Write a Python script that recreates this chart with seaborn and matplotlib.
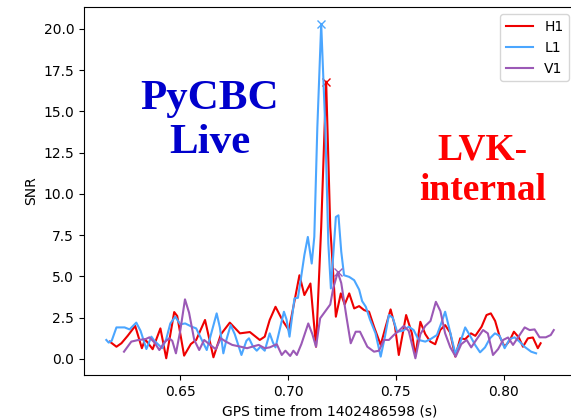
import pandas as pd
import matplotlib
matplotlib.use("Agg")
import matplotlib.pyplot as plt
import seaborn as sns

# SNR time series (time in s from 1402486598)
h1_time = [0.6173, 0.6204, 0.6227, 0.6256, 0.6291, 0.6322, 0.6337, 0.6372, 0.6408, 0.6435,
           0.6472, 0.6486, 0.6518, 0.6549, 0.6574, 0.6615, 0.6654, 0.6689, 0.6730, 0.6777,
           0.6823, 0.6869, 0.6892, 0.6915, 0.6942, 0.6976, 0.7004, 0.7030, 0.7053, 0.7076,
           0.7104, 0.7130, 0.7154, 0.7177, 0.7196, 0.7222, 0.7245, 0.7263, 0.7284, 0.7307,
           0.7330, 0.7353, 0.7376, 0.7399, 0.7430, 0.7453, 0.7476, 0.7496, 0.7514, 0.7548,
           0.7575, 0.7591, 0.7614, 0.7637, 0.7660, 0.7683, 0.7706, 0.7729, 0.7752, 0.7776,
           0.7799, 0.7822, 0.7849, 0.7869, 0.7898, 0.7921, 0.7941, 0.7961, 0.7982, 0.8005,
           0.8028, 0.8048, 0.8071, 0.8090, 0.8113, 0.8136, 0.8159, 0.8172]
h1_snr = [1.05, 0.74, 0.95, 1.4, 2.0, 0.65, 1.19, 0.59, 1.85, 0.04,
          2.84, 2.6, 0.2, 0.9, 1.15, 2.36, 0.1, 1.5, 2.2, 1.55,
          1.63, 1.15, 1.35, 2.36, 3.16, 2.3, 1.75, 3.5, 5.07, 3.87,
          4.57, 0.74, 8.0, 16.8, 8.0, 2.56, 3.97, 3.3, 3.97, 3.06,
          3.2, 2.96, 2.86, 1.95, 0.85, 1.95, 3.0, 2.0, 0.24, 2.66,
          1.55, 0.18, 2.25, 1.5, 1.05, 0.89, 1.75, 2.05, 1.6, 0.14,
          1.25, 1.2, 1.55, 1.4, 1.95, 2.66, 2.76, 2.3, 1.35, 0.74,
          1.1, 1.65, 1.3, 0.74, 1.25, 1.3, 0.65, 0.95]

l1_time = [0.6157, 0.6168, 0.6182, 0.6204, 0.6242, 0.6265, 0.6296, 0.6316, 0.6343, 0.6366,
           0.6380, 0.6416, 0.6435, 0.6454, 0.6477, 0.6500, 0.6523, 0.6554, 0.6574, 0.6600,
           0.6623, 0.6646, 0.6669, 0.6684, 0.6700, 0.6715, 0.6734, 0.6753, 0.6784, 0.6807,
           0.6819, 0.6838, 0.6855, 0.6872, 0.6892, 0.6915, 0.6930, 0.6942, 0.6961, 0.6981,
           0.6993, 0.7007, 0.7030, 0.7046, 0.7061, 0.7076, 0.7092, 0.7110, 0.7122, 0.7136,
           0.7154, 0.7173, 0.7187, 0.7199, 0.7210, 0.7222, 0.7234, 0.7247, 0.7260, 0.7284,
           0.7307, 0.7330, 0.7344, 0.7361, 0.7380, 0.7406, 0.7430, 0.7449, 0.7468, 0.7486,
           0.7506, 0.7532, 0.7560, 0.7583, 0.7606, 0.7637, 0.7661, 0.7691, 0.7712, 0.7729,
           0.7749, 0.7776, 0.7799, 0.7822, 0.7845, 0.7868, 0.7891, 0.7914, 0.7937, 0.7960,
           0.7982, 0.8005, 0.8028, 0.8051, 0.8074, 0.8097, 0.8128, 0.8151]
l1_snr = [1.15, 0.99, 1.1, 1.91, 1.91, 1.79, 2.2, 1.7, 0.6, 1.35,
          1.1, 0.65, 1.2, 2.15, 2.56, 2.1, 2.15, 1.95, 1.85, 1.15,
          0.54, 1.65, 2.76, 1.9, 0.34, 1.2, 2.05, 1.5, 0.24, 1.1,
          1.25, 0.74, 0.5, 0.74, 0.5, 1.55, 1.0, 0.7, 1.75, 2.86,
          2.4, 1.35, 3.67, 3.7, 4.97, 6.3, 7.39, 5.78, 7.4, 14.0,
          20.3, 14.0, 7.0, 4.27, 6.3, 8.6, 8.7, 6.5, 5.07, 4.97,
          4.77, 4.2, 3.5, 3.16, 2.4, 1.55, 0.14, 1.3, 2.66, 2.5,
          1.65, 1.7, 1.95, 1.75, 1.15, 1.05, 1.2, 1.45, 2.2, 2.86,
          1.8, 0.34, 1.0, 1.91, 1.4, 0.85, 0.4, 0.7, 1.25, 1.55,
          1.4, 0.65, 1.2, 1.31, 1.05, 0.74, 0.44, 0.34]

v1_time = [0.6239, 0.6273, 0.6306, 0.6339, 0.6357, 0.6380, 0.6403, 0.6426, 0.6449, 0.6463,
           0.6480, 0.6500, 0.6522, 0.6541, 0.6565, 0.6588, 0.6611, 0.6634, 0.6665, 0.6688,
           0.6712, 0.6741, 0.6777, 0.6810, 0.6836, 0.6864, 0.6892, 0.6915, 0.6948, 0.6971,
           0.6988, 0.7010, 0.7025, 0.7041, 0.7062, 0.7094, 0.7113, 0.7130, 0.7149, 0.7177,
           0.7196, 0.7210, 0.7231, 0.7247, 0.7260, 0.7271, 0.7291, 0.7314, 0.7334, 0.7368,
           0.7399, 0.7422, 0.7445, 0.7468, 0.7491, 0.7514, 0.7537, 0.7560, 0.7591, 0.7614,
           0.7637, 0.7661, 0.7686, 0.7707, 0.7729, 0.7753, 0.7778, 0.7804, 0.7829, 0.7850,
           0.7873, 0.7905, 0.7927, 0.7951, 0.7975, 0.7998, 0.8021, 0.8044, 0.8067, 0.8098,
           0.8121, 0.8144, 0.8167, 0.8196, 0.8219, 0.8233]
v1_snr = [0.44, 1.05, 1.15, 1.2, 1.31, 1.0, 0.54, 1.0, 1.25, 1.1,
          0.34, 1.7, 3.61, 2.8, 1.15, 0.54, 1.15, 0.9, 0.59, 1.25,
          1.05, 0.85, 0.75, 0.65, 0.75, 0.85, 0.65, 0.7, 0.89, 0.24,
          0.5, 0.18, 0.5, 0.24, 0.9, 2.15, 1.5, 0.74, 2.46, 2.96,
          3.3, 4.3, 5.25, 4.6, 3.5, 2.56, 0.95, 1.65, 1.65, 0.74,
          0.44, 0.5, 1.15, 1.15, 1.45, 1.7, 2.0, 1.7, 0.04, 1.5,
          2.0, 2.3, 3.46, 2.9, 1.55, 0.7, 0.14, 0.9, 1.15, 0.7,
          1.15, 1.75, 1.55, 0.24, 0.6, 1.15, 1.3, 0.85, 1.3, 1.91,
          1.75, 1.79, 1.31, 1.31, 1.45, 1.75]

detectors = ["H1", "L1", "V1"]
colors = {"H1": "#ee0000", "L1": "#4ba6ff", "V1": "#9b59b6"}
series = {"H1": (h1_time, h1_snr), "L1": (l1_time, l1_snr), "V1": (v1_time, v1_snr)}

fig = plt.figure(figsize=(5.71, 4.19), dpi=100)
ax = fig.add_axes([0.147, 0.105, 0.862, 0.878])

for det in detectors:
    t, snr = series[det]
    df = pd.DataFrame({"time": t, "snr": snr})
    sns.lineplot(data=df, x="time", y="snr", color=colors[det], label=det,
                 linewidth=1.5, ax=ax, estimator=None, sort=False)
    # mark the peak
    peak = df.loc[df["snr"].idxmax()]
    ax.plot(peak["time"], peak["snr"], "x", color=colors[det], markersize=6)

ax.set_xlabel("GPS time from 1402486598 (s)")
ax.set_ylabel("SNR")
ax.set_xticks([0.65, 0.70, 0.75, 0.80])
ax.set_yticks([0.0, 2.5, 5.0, 7.5, 10.0, 12.5, 15.0, 17.5, 20.0])
ax.yaxis.set_major_formatter(matplotlib.ticker.FormatStrFormatter("%.1f"))
ax.xaxis.set_major_formatter(matplotlib.ticker.FormatStrFormatter("%.2f"))
ax.legend(loc="upper right")

ax.text(0.256, 0.69, "PyCBC\nLive", transform=ax.transAxes, ha="center", va="center",
        fontsize=31, fontweight="bold", family="Liberation Serif", color="#0000cc")
ax.text(0.809, 0.557, "LVK-\ninternal", transform=ax.transAxes, ha="center", va="center",
        fontsize=27, fontweight="bold", family="Liberation Serif", color="#ff0000")

fig.savefig("out.png", dpi=100)
